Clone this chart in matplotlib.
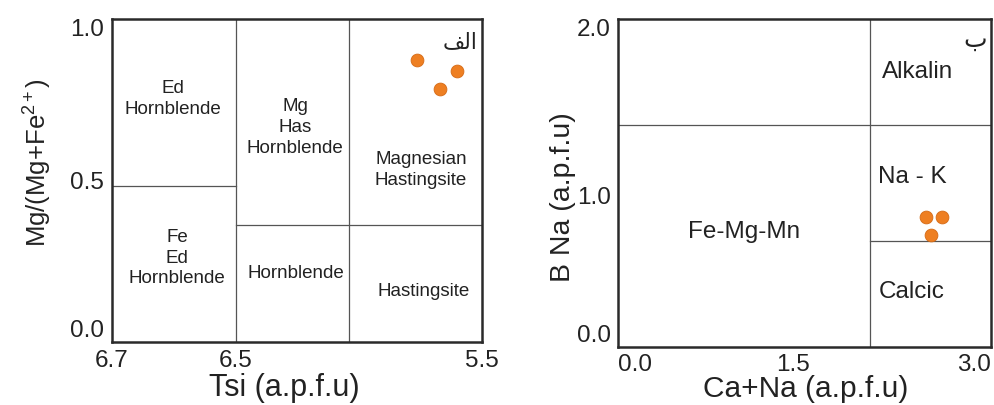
import numpy as np
import matplotlib
matplotlib.use("Agg")
import matplotlib.pyplot as plt

plt.rcParams['font.family'] = ['Liberation Sans', 'DejaVu Sans']
plt.rcParams['mathtext.fontset'] = 'custom'
plt.rcParams['mathtext.rm'] = 'Liberation Sans'
plt.rcParams['mathtext.it'] = 'Liberation Sans'
plt.rcParams['mathtext.bf'] = 'Liberation Sans:bold'

# ---------------- data ----------------
# Left panel: TSi vs Mg/(Mg+Fe2+)
left_x_ticks = [6.7, 6.5, 5.5]
left_y_ticks = [0.0, 0.5, 1.0]
left_vlines = [6.5, 6.04]
left_hline_low = 0.484      # between 6.7 and 6.5
left_hline_high = 0.361     # between 6.5 and 5.5
left_pts_x = [5.765, 5.602, 5.671]
left_pts_y = [0.873, 0.839, 0.783]
left_labels = ["Ed\nHornblende", "Mg\nHas\nHornblende", "Magnesian\nHastingsite",
               "Fe\nEd\nHornblende", "Hornblende", "Hastingsite"]
left_label_pos = [(0.165, 0.752), (0.495, 0.663), (0.835, 0.533),
                  (0.176, 0.260), (0.497, 0.211), (0.841, 0.155)]
left_tag = "\uFED2\uFEDF\uFE8D"   # "الف" in visual (shaped) order

# Right panel: Ca+Na vs B Na
right_x_ticks = [0.0, 1.5, 3.0]
right_y_ticks = [0.0, 1.0, 2.0]
right_vline = 2.083
right_hline_high = 1.40
right_hline_low = 0.70
right_pts_x = [2.508, 2.629, 2.545]
right_pts_y = [0.861, 0.861, 0.742]
right_labels = ["Alkalin", "Na - K", "Fe-Mg-Mn", "Calcic"]
right_label_pos = [(0.802, 0.838), (0.788, 0.518), (0.338, 0.351), (0.788, 0.168)]
right_tag = "\u0628"  # "ب"

# -------------- scales ---------------
def piecewise(knots_in, knots_out):
    ki = np.asarray(knots_in, float)
    ko = np.asarray(knots_out, float)

    def f(v):
        v = np.asarray(v, float)
        out = np.interp(v, ki, ko)
        lo_s = (ko[1] - ko[0]) / (ki[1] - ki[0])
        hi_s = (ko[-1] - ko[-2]) / (ki[-1] - ki[-2])
        out = np.where(v < ki[0], ko[0] + (v - ki[0]) * lo_s, out)
        out = np.where(v > ki[-1], ko[-1] + (v - ki[-1]) * hi_s, out)
        return out
    return f

# left x: 5.5 -> 0, 6.5 -> 0.665, 6.7 -> 1 (axis inverted)
lx_fwd = piecewise([5.5, 6.5, 6.7], [0.0, 0.665, 1.0])
lx_inv = piecewise([0.0, 0.665, 1.0], [5.5, 6.5, 6.7])
# right x: 0 -> 0, 1.5 -> 175, 3 -> 373
rx_fwd = piecewise([0.0, 1.5, 3.0], [0.0, 175.0, 373.0])
rx_inv = piecewise([0.0, 175.0, 373.0], [0.0, 1.5, 3.0])
# right y: 0 -> 0, 1 -> 151, 2 -> 328
ry_fwd = piecewise([0.0, 1.0, 2.0], [0.0, 151.0, 328.0])
ry_inv = piecewise([0.0, 151.0, 328.0], [0.0, 1.0, 2.0])

fig = plt.figure(figsize=(9.95, 4.05), dpi=100)
axL = fig.add_axes([0.1126, 0.1556, 0.3719, 0.7975])
axR = fig.add_axes([0.6211, 0.1432, 0.3749, 0.8099])

spine_col = '#2a2a2a'
line_col = '#555555'
text_col = '#222222'
pt_col = '#EE7F22'
pt_edge = '#D56A15'

for ax in (axL, axR):
    for s in ax.spines.values():
        s.set_linewidth(1.8)
        s.set_color(spine_col)

# ---- left panel ----
axL.set_xscale('function', functions=(lx_fwd, lx_inv))
axL.set_xlim(6.7, 5.5)
axL.set_ylim(0.0, 1.0)
for v in left_vlines:
    axL.axvline(v, color=line_col, lw=0.9)
axL.plot([6.7, 6.5], [left_hline_low, left_hline_low], color=line_col, lw=0.9)
axL.plot([6.5, 5.5], [left_hline_high, left_hline_high], color=line_col, lw=0.9)
axL.scatter(left_pts_x, left_pts_y, s=85, color=pt_col, edgecolors=pt_edge,
            linewidths=0.6, zorder=5, clip_on=False)
for t, (px, py) in zip(left_labels, left_label_pos):
    axL.text(px, py, t, transform=axL.transAxes, ha='center', va='center',
             fontsize=13.5, color=text_col, linespacing=1.3)
axL.text(0.941, 0.929, left_tag, transform=axL.transAxes, ha='center',
         va='center', fontsize=15.5, color=text_col, family=['DejaVu Sans'])
axL.set_xticks(left_x_ticks)
axL.set_xticklabels([f"{v:.1f}" for v in left_x_ticks])
axL.set_yticks(left_y_ticks)
axL.set_yticklabels([f"{v:.1f}" for v in left_y_ticks])
axL.tick_params(length=0, labelsize=17.5, labelcolor=text_col, pad=6)
ylabs = axL.get_yticklabels()
ylabs[0].set_va('bottom')
ylabs[-1].set_va('top')
axL.set_xlabel("Tsi (a.p.f.u)", fontsize=22, color=text_col)
axL.xaxis.set_label_coords(0.465, -0.142)
axL.xaxis.label.set_va('center')
axL.set_ylabel("Mg/(Mg+Fe$^{2+}$)", fontsize=18.5, color=text_col)
axL.yaxis.set_label_coords(-0.20, 0.554)
axL.yaxis.label.set_va('center')

# ---- right panel ----
axR.set_xscale('function', functions=(rx_fwd, rx_inv))
axR.set_yscale('function', functions=(ry_fwd, ry_inv))
axR.set_xlim(0.0, 3.0)
axR.set_ylim(0.0, 2.0)
axR.axvline(right_vline, color=line_col, lw=0.9)
axR.plot([0.0, 3.0], [right_hline_high, right_hline_high], color=line_col, lw=0.9)
axR.plot([right_vline, 3.0], [right_hline_low, right_hline_low], color=line_col, lw=0.9)
axR.scatter(right_pts_x, right_pts_y, s=85, color=pt_col, edgecolors=pt_edge,
            linewidths=0.6, zorder=5, clip_on=False)
for t, (px, py) in zip(right_labels, right_label_pos):
    axR.text(px, py, t, transform=axR.transAxes, ha='center', va='center',
             fontsize=17.5, color=text_col)
axR.text(0.957, 0.936, right_tag, transform=axR.transAxes, ha='center',
         va='center', fontsize=18, color=text_col, family=['DejaVu Sans'])
axR.set_xticks(right_x_ticks)
axR.set_xticklabels([f"{v:.1f}" for v in right_x_ticks])
axR.set_yticks(right_y_ticks)
axR.set_yticklabels([f"{v:.1f}" for v in right_y_ticks])
axR.tick_params(length=0, labelsize=17.5, labelcolor=text_col, pad=5)
rxl = axR.get_xticklabels()
rxl[0].set_ha('left')
rxl[-1].set_ha('right')
ryl = axR.get_yticklabels()
ryl[0].set_va('bottom')
ryl[-1].set_va('top')
axR.set_xlabel("Ca+Na (a.p.f.u)", fontsize=21.5, color=text_col)
axR.xaxis.set_label_coords(0.504, -0.128)
axR.xaxis.label.set_va('center')
axR.set_ylabel("B Na (a.p.f.u)", fontsize=20.5, color=text_col)
axR.yaxis.set_label_coords(-0.147, 0.456)
axR.yaxis.label.set_va('center')

fig.savefig("out.png", dpi=100)
